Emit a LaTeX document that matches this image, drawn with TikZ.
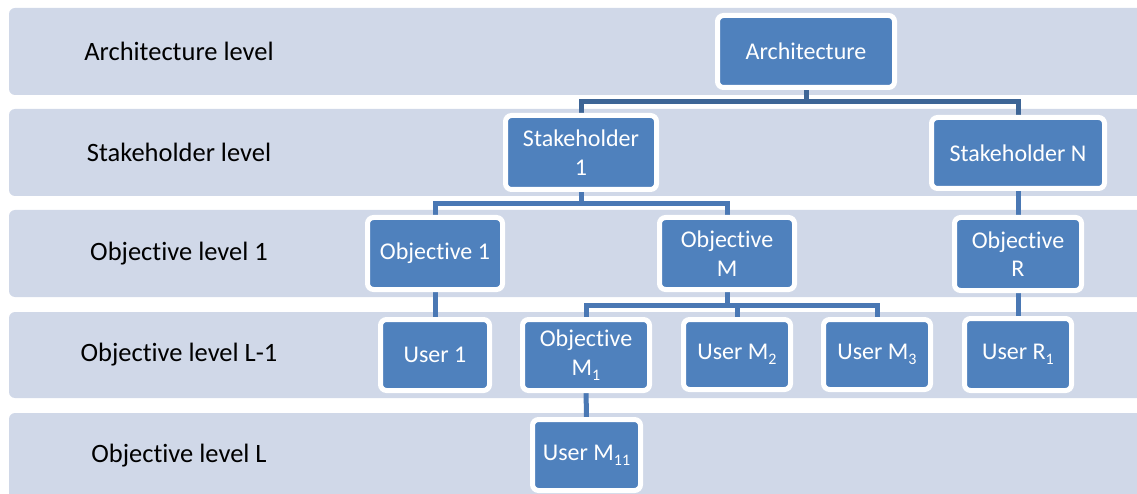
\documentclass[tikz,border=0pt]{standalone}
\usepackage{fontspec}
\setmainfont{Carlito}[Ligatures=NoCommon]
\definecolor{bandfill}{HTML}{D0D8E8}
\definecolor{boxblue}{HTML}{4F81BD}
\definecolor{linktop}{HTML}{3D6596}
\definecolor{linkmid}{HTML}{4A78B4}
\pgfdeclarelayer{bands}
\pgfdeclarelayer{links}
\pgfsetlayers{bands,links,main}
% lowered index digits
\newcommand\lowidx[1]{\raisebox{-0.45ex}{\fontsize{16}{16}\selectfont #1}}
\tikzset{
  band/.style={fill=bandfill, draw=none, rounded corners=6pt},
  levellabel/.style={font=\fontsize{26.5}{30}\selectfont, text=black, anchor=center, inner sep=0pt},
  box/.style={draw=white, line width=5pt, fill=boxblue, rounded corners=6pt,
    text=white, align=center, inner sep=0pt,
    font=\fontsize{24}{28.5}\selectfont},
  link/.style={line width=5pt, draw=linkmid, line join=miter},
  linkhigh/.style={link, draw=linktop}
}
\begin{document}
\begin{tikzpicture}[x=1pt,y=-1pt]
\useasboundingbox (0,0) rectangle (1137,494);

% level bands with their labels
\begin{pgfonlayer}{bands}
  \fill[band] (9,8)   rectangle (1160,95);
  \fill[band] (9,109) rectangle (1160,196);
  \fill[band] (9,210) rectangle (1160,297);
  \fill[band] (9,312) rectangle (1160,398);
  \fill[band] (9,413) rectangle (1160,510);
\end{pgfonlayer}
\node[levellabel] (lvA) at (179,51.5) {Architecture level};
\node[levellabel] (lvS) at (179,152.5) {Stakeholder level};
\node[levellabel] (lvO) at (179,253.5) {Objective level 1};
\node[levellabel] (lvL1) at (179,355) {Objective level L-1};
\node[levellabel] (lvL) at (179,456) {Objective level L};

% hierarchy boxes
\node[box, minimum width=177pt, minimum height=72pt] (arch) at (806,51.5) {Architecture};
\node[box, minimum width=151pt, minimum height=74pt] (s1) at (581,152.5) {Stakeholder\\1};
\node[box, minimum width=173pt, minimum height=71pt] (sN) at (1018,153) {Stakeholder N};
\node[box, minimum width=135pt, minimum height=72pt] (o1) at (435,253.5) {Objective 1};
\node[box, minimum width=135pt, minimum height=72pt] (oM) at (727,253.5) {Objective\\M};
\node[box, minimum width=127pt, minimum height=73pt] (oR) at (1018,254) {Objective\\R};
\node[box, minimum width=109pt, minimum height=71pt] (u1) at (435,355) {User 1};
\node[box, minimum width=127pt, minimum height=71pt] (oM1) at (586,355) {Objective\\M\lowidx{1}};
\node[box, minimum width=107pt, minimum height=70pt] (uM2) at (737,354.5) {User M\lowidx{2}};
\node[box, minimum width=107pt, minimum height=70pt] (uM3) at (877,354.5) {User M\lowidx{3}};
\node[box, minimum width=107pt, minimum height=72pt] (uR1) at (1018,354.5) {User R\lowidx{1}};
\node[box, minimum width=108pt, minimum height=71pt] (uM11) at (586.5,455) {User M\lowidx{11}};

% junction heights of the branching connectors
\coordinate (jA) at (806,102);
\coordinate (jS) at (581,204);
\coordinate (jM) at (727,305);

% connectors
\begin{pgfonlayer}{links}
  \draw[linkhigh] (arch.center) -- (jA) -| (s1.center);
  \draw[linkhigh] (jA) -| (sN.center);
  \draw[link] (s1.center) -- (jS) -| (o1.center);
  \draw[link] (jS) -| (oM.center);
  \draw[link] (sN.center) -- (oR.center) -- (uR1.center);
  \draw[link] (o1.center) -- (u1.center);
  \draw[link] (oM.center) -- (jM) -| (oM1.center);
  \draw[link] (jM) -| (uM2.center);
  \draw[link] (jM) -| (uM3.center);
  \draw[link] (oM1.center) -- (uM11.center);
\end{pgfonlayer}
\end{tikzpicture}
\end{document}
